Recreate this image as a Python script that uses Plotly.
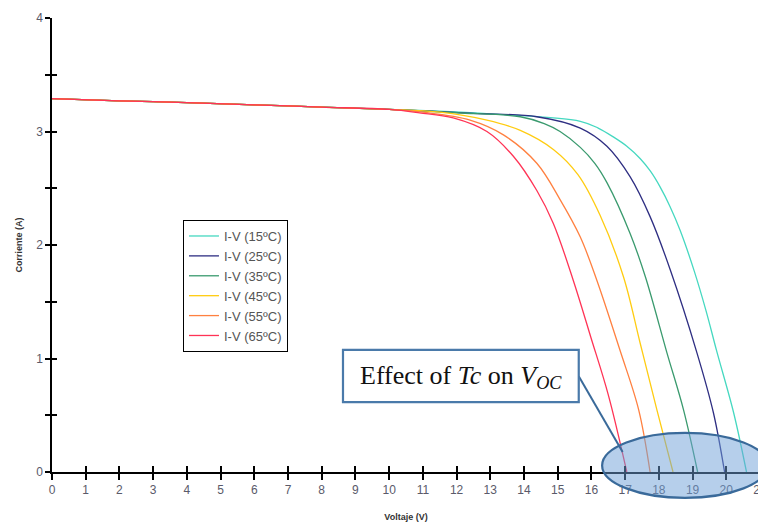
import plotly.graph_objects as go

# ---- data ----
labels = ["I-V (15ºC)", "I-V (25ºC)", "I-V (35ºC)", "I-V (45ºC)", "I-V (55ºC)", "I-V (65ºC)"]
colors = ["#45D8C0", "#2E2E82", "#3A9A6E", "#FFCC11", "#FF8040", "#FF3355"]

flat_V = [0, 2, 4, 6, 8, 10]
flat_I = [3.29, 3.27, 3.255, 3.235, 3.215, 3.195]

v15 = [13.0, 15.67, 16.2, 16.66, 17.05, 17.45, 17.75, 18.04, 18.33, 18.63, 19.05, 19.4, 19.72, 20.22, 20.6]
i15 = [3.155, 3.09, 3.03, 2.95, 2.87, 2.76, 2.65, 2.51, 2.34, 2.13, 1.77, 1.42, 1.06, 0.52, 0.0]
v25 = [12.5, 14.38, 15.67, 16.46, 17.15, 17.74, 18.34, 19.13, 19.62, 19.95]
i25 = [3.16, 3.13, 3.03, 2.87, 2.60, 2.25, 1.78, 1.05, 0.52, 0.0]
v35 = [12.0, 13.89, 14.6, 15.07, 15.67, 16.1, 16.46, 17.15, 17.6, 18.24, 18.73, 19.15]
i35 = [3.165, 3.13, 3.07, 3.0, 2.86, 2.72, 2.55, 2.10, 1.72, 1.05, 0.55, 0.0]
v45 = [11.5, 12.9, 13.89, 14.88, 15.6, 16.26, 16.95, 17.45, 17.94, 18.42]
i45 = [3.17, 3.10, 3.01, 2.84, 2.62, 2.26, 1.72, 1.13, 0.55, 0.0]
v55 = [11.0, 12.4, 13.39, 14.38, 15.07, 15.67, 16.16, 16.85, 17.4, 17.74]
i55 = [3.17, 3.10, 2.97, 2.72, 2.40, 2.07, 1.69, 1.07, 0.55, 0.0]
v65 = [10.9, 11.9, 12.9, 13.69, 14.38, 14.87, 15.46, 15.98, 16.5, 17.05]
i65 = [3.165, 3.12, 3.0, 2.78, 2.48, 2.19, 1.69, 1.19, 0.68, 0.0]

curves_V = [v15, v25, v35, v45, v55, v65]
curves_I = [i15, i25, i35, i45, i55, i65]

x_ticks = list(range(0, 22))
y_ticks = [0, 1, 2, 3, 4]

fig = go.Figure()
for lab, col, vv, ii in zip(labels, colors, curves_V, curves_I):
    fig.add_trace(go.Scatter(
        x=flat_V + vv, y=flat_I + ii, mode="lines", name=lab,
        line=dict(color=col, width=1.3, shape="spline", smoothing=1.0),
    ))

# helper trace so the overlay axes (inside half of crossing ticks) render
fig.add_trace(go.Scatter(x=[None], y=[None], xaxis="x2", yaxis="y2",
                         showlegend=False, hoverinfo="skip"))

axis_font = dict(family="Liberation Sans, Arial", size=12, color="#5a5a6a")
title_font = dict(family="Liberation Sans, Arial", size=9, color="#333333")
# the page body adds an 8px offset, so the figure is 8px smaller and margins compensate
fig.update_layout(
    width=758, height=517,
    margin=dict(l=44, r=6, t=10, b=53),
    paper_bgcolor="white", plot_bgcolor="white",
    showlegend=True,
    legend=dict(x=0.185, y=0.555, xanchor="left", yanchor="top",
                bgcolor="white", bordercolor="black", borderwidth=1,
                font=dict(family="Liberation Sans, Arial", size=13, color="#555555"),
                itemwidth=30, tracegroupgap=0),
    xaxis=dict(range=[0, 21], tickvals=x_ticks, ticktext=[str(t) for t in x_ticks],
               automargin=False, ticklabeloverflow="allow",
               showgrid=False, zeroline=False, showline=True, linecolor="black", linewidth=1.5,
               ticks="outside", ticklen=6, tickwidth=1.5, tickcolor="black",
               tickfont=axis_font,
               title=dict(text="<b>Voltaje (V)</b>", font=title_font, standoff=18)),
    yaxis=dict(range=[0, 4], tickvals=y_ticks, showgrid=False, zeroline=False, showline=True,
               automargin=False,
               linecolor="black", linewidth=1.5,
               ticks="outside", ticklen=5, tickwidth=1.5, tickcolor="black",
               minor=dict(dtick=0.5, ticks="outside", ticklen=5, tickwidth=1.5, tickcolor="black"),
               tickfont=axis_font,
               title=dict(text="<b>Corriente (A)</b>", font=title_font, standoff=12)),
    xaxis2=dict(overlaying="x", anchor="y", range=[0, 21], tickvals=x_ticks, automargin=False,
                showticklabels=False, showgrid=False, zeroline=False, showline=False,
                ticks="inside", ticklen=6, tickwidth=1.5, tickcolor="black"),
    yaxis2=dict(overlaying="y", anchor="x", side="left", range=[0, 4], dtick=0.5, automargin=False,
                showticklabels=False, showgrid=False, zeroline=False, showline=False,
                ticks="inside", ticklen=5, tickwidth=1.5, tickcolor="black"),
)

# highlight ellipse, callout box and connector (paper coordinates)
fig.add_shape(type="circle", xref="paper", yref="paper",
              x0=0.777, x1=1.011, y0=-0.057, y1=0.086,
              fillcolor="rgba(110,160,215,0.50)", line=dict(color="#3A6A9A", width=2.2), layer="above")
fig.add_shape(type="line", xref="paper", yref="paper",
              x0=0.744, y0=0.211, x1=0.806, y1=0.044,
              line=dict(color="#3A6A9A", width=2))
fig.add_shape(type="rect", xref="paper", yref="paper",
              x0=0.411, x1=0.744, y0=0.154, y1=0.269,
              fillcolor="white", line=dict(color="#4A7AAA", width=2.2), layer="above")
fig.add_annotation(xref="paper", yref="paper", x=0.578, y=0.170, showarrow=False,
                   text="Effect of <i>Tc</i> on <i>V<sub>OC</sub></i>",
                   font=dict(family="Liberation Serif, Times New Roman", size=26, color="#111111"))

fig.write_html("out.html")
